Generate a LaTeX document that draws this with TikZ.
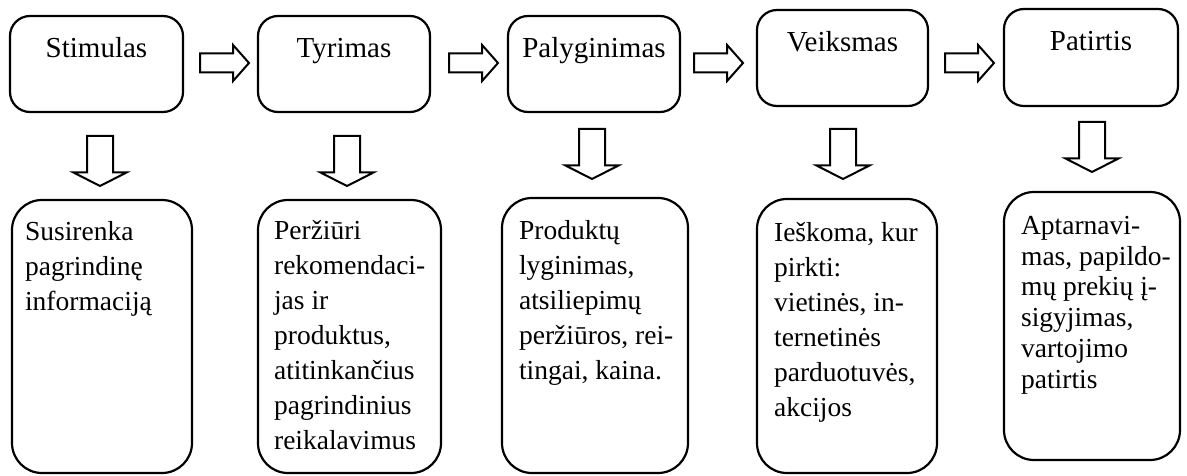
\documentclass[tikz,border=0pt]{standalone}
\usepackage{fontspec}
\setmainfont{Liberation Serif}
\usetikzlibrary{shapes.arrows,calc}

\begin{document}
\begin{tikzpicture}[x=1pt,y=-1pt,
  stagebox/.style={draw, line width=2.2pt, rounded corners=20pt, inner sep=0pt},
  infobox/.style={draw, line width=2.2pt, rounded corners=30pt, inner sep=0pt},
  stagelabel/.style={font=\fontsize{29}{34}\selectfont, anchor=base, inner sep=0pt},
  infotext/.style={font=\fontsize{27.5}{35}\selectfont, align=left, anchor=north west, inner sep=0pt},
  rightarrow/.style={single arrow, draw, line width=2pt, inner sep=8.5pt,
    minimum height=49pt,
    single arrow head extend=8.5pt, single arrow tip angle=97, anchor=tail},
  downarrow/.style={single arrow, draw, line width=2pt, inner sep=12pt,
    minimum height=50pt, shape border rotate=270,
    single arrow head extend=13.5pt, single arrow tip angle=126, anchor=tail}
]
\useasboundingbox (0,0) rectangle (1187,476);

% stages of the decision process
\node[stagebox, minimum width=173pt, minimum height=96pt] (s1) at (96.5,64) {};
\node[stagebox, minimum width=172pt, minimum height=96pt] (s2) at (344,64) {};
\node[stagebox, minimum width=172pt, minimum height=96pt] (s3) at (594,64) {};
\node[stagebox, minimum width=171pt, minimum height=96pt] (s4) at (842.5,58) {};
\node[stagebox, minimum width=174pt, minimum height=97pt] (s5) at (1091,57.5) {};

\node[stagelabel] (s1t) at ($(s1.north)+(0,43)$) {Stimulas};
\node[stagelabel] (s2t) at ($(s2.north)+(0,43)$) {Tyrimas};
\node[stagelabel] (s3t) at ($(s3.north)+(0,43)$) {Palyginimas};
\node[stagelabel] (s4t) at ($(s4.north)+(0,43)$) {Veiksmas};
\node[stagelabel] (s5t) at ($(s5.north)+(0,43)$) {Patirtis};

% arrows between the stages
\node[rightarrow] (a12) at (199,63) {};
\node[rightarrow] (a23) at (448,63) {};
\node[rightarrow] (a34) at (693,63) {};
\node[rightarrow] (a45) at (944,63) {};

% arrows down to the descriptions
\node[downarrow] (d1) at (100,135) {};
\node[downarrow] (d2) at (347,135) {};
\node[downarrow] (d3) at (592,128) {};
\node[downarrow] (d4) at (843,128) {};
\node[downarrow] (d5) at (1092,121) {};

% descriptions
\node[infobox, minimum width=180pt, minimum height=273pt] (b1) at (102,336.5) {};
\node[infobox, minimum width=183pt, minimum height=273pt] (b2) at (349.5,336.5) {};
\node[infobox, minimum width=186pt, minimum height=275pt] (b3) at (595,335.5) {};
\node[infobox, minimum width=180pt, minimum height=274pt] (b4) at (847,336) {};
\node[infobox, minimum width=176pt, minimum height=268pt] (b5) at (1092,326) {};

\node[infotext] (b1t) at ($(b1.north west)+(14,22)$) {Susirenka\\pagrindinę\\informaciją};
\node[infotext] (b2t) at ($(b2.north west)+(17,21)$) {Peržiūri\\rekomendaci-\\jas ir\\produktus,\\atitinkančius\\pagrindinius\\reikalavimus};
\node[infotext] (b3t) at ($(b3.north west)+(18,23)$) {Produktų\\lyginimas,\\atsiliepimų\\peržiūros, rei-\\tingai, kaina.};
\node[infotext] (b4t) at ($(b4.north west)+(18,24)$) {Ieškoma, kur\\pirkti:\\vietinės, in-\\ternetinės\\parduotuvės,\\akcijos};
\node[infotext, font=\fontsize{27.5}{30.8}\selectfont] (b5t) at ($(b5.north west)+(18,25)$) {Aptarnavi-\\mas, papildo-\\mų prekių į-\\sigyjimas,\\vartojimo\\patirtis};
\end{tikzpicture}
\end{document}
